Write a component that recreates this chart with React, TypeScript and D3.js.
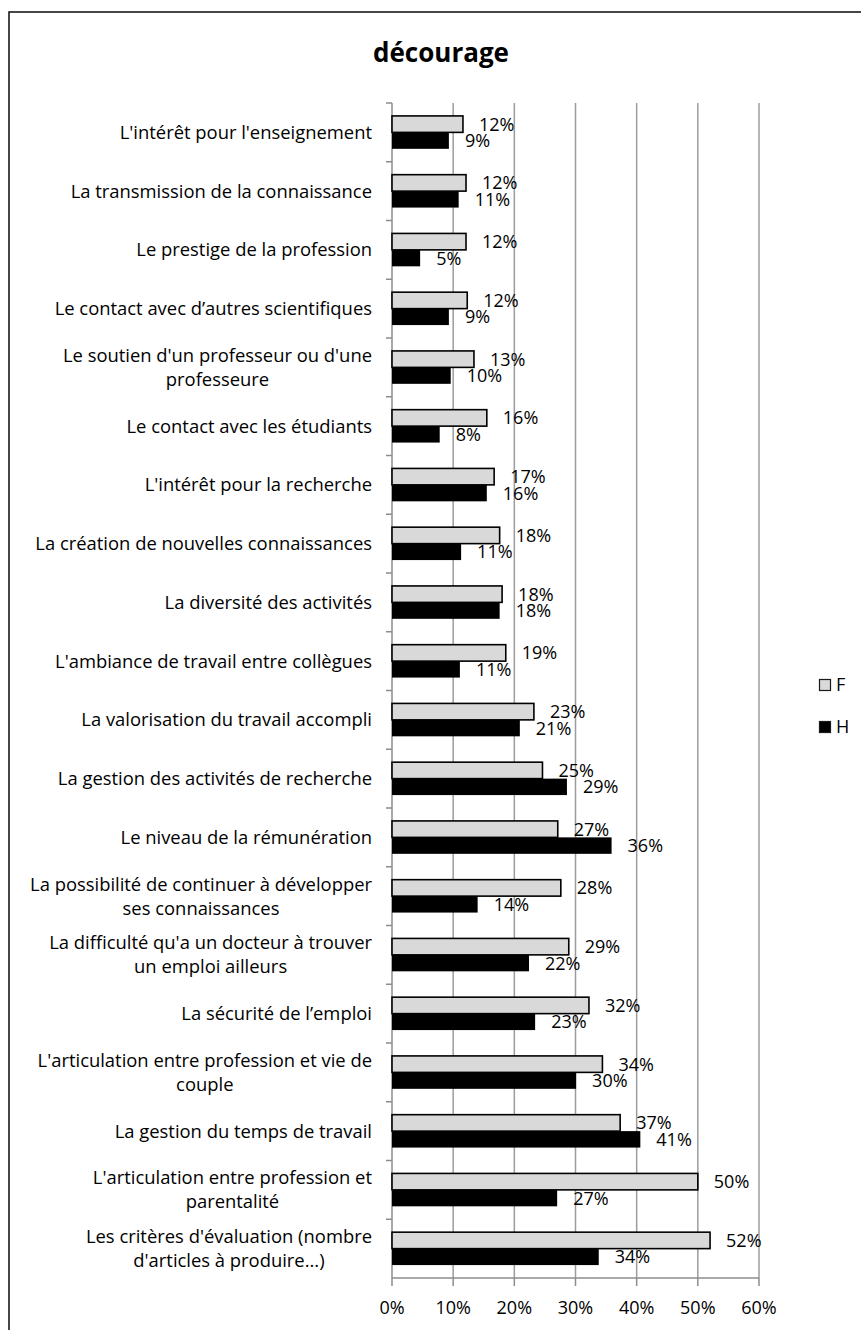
import * as d3 from "d3";

const categories = [
  "L'intérêt pour l'enseignement",
  "La transmission de la connaissance",
  "Le prestige de la profession",
  "Le contact avec d’autres scientifiques",
  "Le soutien d'un professeur ou d'une\nprofesseure",
  "Le contact avec les étudiants",
  "L'intérêt pour la recherche",
  "La création de nouvelles connaissances",
  "La diversité des activités",
  "L'ambiance de travail entre collègues",
  "La valorisation du travail accompli",
  "La gestion des activités de recherche",
  "Le niveau de la rémunération",
  "La possibilité de continuer à développer\nses connaissances",
  "La difficulté qu'a un docteur à trouver\nun emploi ailleurs",
  "La sécurité de l’emploi",
  "L'articulation entre profession et vie de\ncouple",
  "La gestion du temps de travail",
  "L'articulation entre profession et\nparentalité",
  "Les critères d'évaluation (nombre\nd'articles à produire...)",
];

// percentages
const valuesF = [11.6, 12.1, 12.1, 12.3, 13.4, 15.5, 16.7, 17.6, 18.0, 18.6, 23.2, 24.6, 27.1, 27.6, 28.9, 32.2, 34.4, 37.3, 50.0, 52.0];
const valuesH = [9.3, 10.9, 4.6, 9.3, 9.6, 7.8, 15.5, 11.3, 17.6, 11.1, 20.9, 28.6, 35.9, 14.0, 22.4, 23.4, 30.1, 40.6, 27.0, 33.8];

const seriesNames = ["F", "H"];
const seriesFill = ["#d9d9d9", "#000000"];
const xTicks = [0, 10, 20, 30, 40, 50, 60];

const W = 861;
const H = 1330;
const FONT = "'Open Sans', sans-serif";
const left = 392;
const right = 759;
const top = 103;
const bottom = 1278;

export default function App() {
  const x = d3.scaleLinear().domain([0, 60]).range([left, right]);
  const y = d3
    .scaleBand<string>()
    .domain(categories)
    .range([top, bottom])
    .paddingInner(0.44)
    .paddingOuter(0.22);
  const inner = d3.scaleBand<string>().domain(seriesNames).range([0, y.bandwidth()]);
  const series = [valuesF, valuesH];
  const gap = (y.step() * y.paddingInner()) / 2;

  return (
    <div style={{ position: "absolute", left: 0, top: 0, width: W, height: H, overflow: "hidden" }}>
      <svg width={W} height={H} style={{ display: "block", fontFamily: FONT }}>
        <rect x={0} y={0} width={W} height={H} fill="#fff" />
        <rect x={9} y={12} width={W + 50} height={H + 50} fill="none" stroke="#1a1a1a" strokeWidth={1.6} />
        <text x={441} y={62} textAnchor="middle" fontSize={26} fontWeight={700}>
          décourage
        </text>

        {/* gridlines */}
        {xTicks.slice(1).map((t) => (
          <line key={"g" + t} x1={x(t)} x2={x(t)} y1={top} y2={bottom} stroke="#9c9c9c" strokeWidth={1.5} />
        ))}

        {/* axes */}
        <line x1={left} x2={left} y1={top} y2={bottom} stroke="#8c8c8c" strokeWidth={1.5} />
        <line x1={left} x2={right} y1={bottom} y2={bottom} stroke="#8c8c8c" strokeWidth={1.5} />
        {categories.map((c) => (
          <line key={"yt" + c} x1={left - 6} x2={left} y1={y(c)! - gap} y2={y(c)! - gap} stroke="#8c8c8c" strokeWidth={1.5} />
        ))}
        {xTicks.map((t) => (
          <g key={"xt" + t}>
            <line x1={x(t)} x2={x(t)} y1={bottom} y2={bottom + 8} stroke="#8c8c8c" strokeWidth={1.5} />
            <text x={x(t)} y={1314} textAnchor="middle" fontSize={18}>
              {t}%
            </text>
          </g>
        ))}

        {/* category labels */}
        {categories.map((c) => {
          const lines = c.split("\n");
          const cy = y(c)! + y.bandwidth() / 2;
          const lh = 24;
          if (lines.length === 1) {
            return (
              <text key={"l" + c} x={372} y={cy} dy="0.35em" textAnchor="end" fontSize={18.4}>
                {c}
              </text>
            );
          }
          return (
            <g key={"l" + c}>
              {lines.map((ln, i) => (
                <text
                  key={i}
                  x={372}
                  y={cy + (i - (lines.length - 1) / 2) * lh}
                  dy="0.35em"
                  textAnchor="middle"
                  fontSize={18.4}
                  ref={(el) => {
                    if (!el || !el.parentNode) return;
                    // center every line on the widest one, right edge at 372
                    const sibs = Array.from(el.parentNode.childNodes) as SVGTextElement[];
                    const maxW = Math.max(...sibs.map((s) => s.getComputedTextLength()));
                    sibs.forEach((s) => s.setAttribute("x", String(372 - maxW / 2)));
                  }}
                >
                  {ln}
                </text>
              ))}
            </g>
          );
        })}

        {/* bars */}
        {categories.map((c, i) => (
          <g key={"b" + c} transform={`translate(0,${y(c)})`}>
            {series.map((vals, s) => (
              <g key={s}>
                <rect
                  x={x(0)}
                  y={inner(seriesNames[s])}
                  width={x(vals[i]) - x(0)}
                  height={inner.bandwidth()}
                  fill={seriesFill[s]}
                  stroke="#000"
                  strokeWidth={s === 0 ? 1.6 : 0}
                />
                <text
                  x={x(vals[i]) + 16}
                  y={inner(seriesNames[s])! + inner.bandwidth() / 2}
                  dy="0.36em"
                  fontSize={18}
                >
                  {Math.round(vals[i])}%
                </text>
              </g>
            ))}
          </g>
        ))}

        {/* legend */}
        {seriesNames.map((n, i) => (
          <g key={"lg" + n} transform={`translate(819,${679 + i * 42})`}>
            <rect x={0.5} y={0.5} width={11} height={11} fill={seriesFill[i]} stroke="#1a1a1a" strokeWidth={1.2} />
            <text x={17} y={6} dy="0.36em" fontSize={18}>
              {n}
            </text>
          </g>
        ))}
      </svg>
    </div>
  );
}
